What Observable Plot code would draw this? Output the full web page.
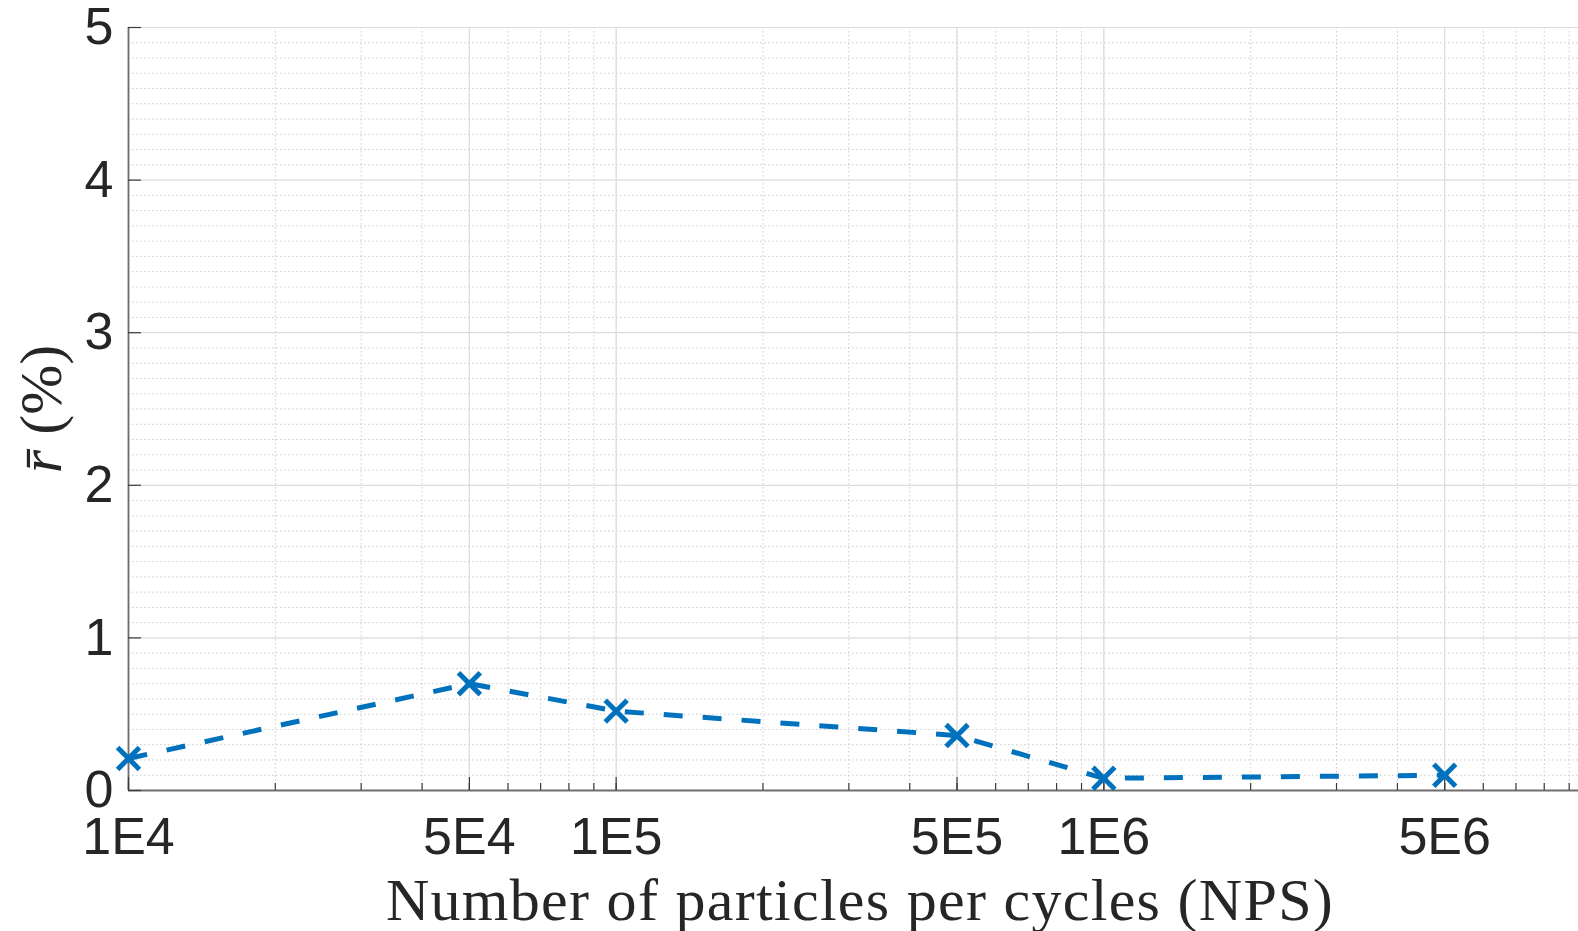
<!DOCTYPE html>
<html>
<head>
<meta charset="utf-8">
<script src="https://cdn.jsdelivr.net/npm/d3@7"></script>
<script src="https://cdn.jsdelivr.net/npm/@observablehq/plot@0.6"></script>
<style>
  html, body { margin: 0; padding: 0; background: #fff; overflow: hidden; }
  #chart { width: 1578px; height: 931px; overflow: hidden; }
  #chart svg { max-width: none !important; }
</style>
</head>
<body>
<div id="chart"></div>
<script>
// Data
const nps = [1e4, 5e4, 1e5, 5e5, 1e6, 5e6];
const rbar = [0.21, 0.70, 0.52, 0.36, 0.08, 0.10];

// Tick definitions
const xTickValues = [1e4, 5e4, 1e5, 5e5, 1e6, 5e6];
const xTickLabels = ["1E4", "5E4", "1E5", "5E5", "1E6", "5E6"];
const yTicks = [0, 1, 2, 3, 4, 5];
const decades = [1e4, 1e5, 1e6];
const mantissas = [1, 2, 3, 4, 5, 6, 7, 8, 9];
const xMinor = decades.flatMap(d => mantissas.map(m => d * m));
const yMinor = d3.range(0, 50).map(i => i / 10).filter(v => v % 1 !== 0);

const xLabel = "Number of particles per cycles (NPS)";
const yLabel = "r\u0304 (%)";

const data = nps.map((x, i) => ({x, y: rbar[i]}));

const blue = "#0072BD";
const ink = "#262626";
const W = 1600, H = 931;
const mL = 128, mR = 9, mT = 27, mB = 141;
const frameW = W - mL - mR, frameH = H - mT - mB;
const serif = "'Liberation Serif', 'DejaVu Serif', serif";

const chart = Plot.plot({
  width: W,
  height: H,
  marginLeft: mL,
  marginRight: mR,
  marginTop: mT,
  marginBottom: mB,
  style: {fontFamily: "'Liberation Sans', Arial, sans-serif", color: ink, background: "#fff", overflow: "visible", maxWidth: "none"},
  x: {type: "log", domain: [1e4, 1e7], axis: null},
  y: {domain: [0, 5], axis: null},
  marks: [
    // minor grid (dotted)
    Plot.gridY(yMinor, {stroke: "#cbcbcb", strokeOpacity: 1, strokeWidth: 1, strokeDasharray: "1.5,2.5"}),
    Plot.gridX(xMinor, {stroke: "#cbcbcb", strokeOpacity: 1, strokeWidth: 1, strokeDasharray: "1.5,2.5"}),
    // major grid (solid)
    Plot.gridY(yTicks, {stroke: "#dcdcdc", strokeOpacity: 1, strokeWidth: 1.2}),
    Plot.gridX(xTickValues, {stroke: "#dcdcdc", strokeOpacity: 1, strokeWidth: 1.2}),
    // spines
    Plot.ruleX([1e4], {stroke: "#6e6e6e", strokeWidth: 1.8}),
    Plot.ruleY([0], {stroke: "#6e6e6e", strokeWidth: 1.8}),
    // inward ticks
    Plot.ruleX(xMinor, {stroke: "#3a3a3a", strokeWidth: 1.2, insetTop: frameH - 7}),
    Plot.ruleX(xTickValues, {stroke: "#3a3a3a", strokeWidth: 1.2, insetTop: frameH - 13}),
    Plot.ruleY(yTicks, {stroke: "#3a3a3a", strokeWidth: 1.2, insetRight: frameW - 13}),
    // data
    Plot.line(data, {x: "x", y: "y", stroke: blue, strokeWidth: 5, strokeDasharray: "19,20", strokeLinecap: "butt", strokeLinejoin: "miter"}),
    Plot.dot(data, {x: "x", y: "y", symbol: "times", r: 10, stroke: blue, strokeWidth: 5}),
    // tick labels
    Plot.axisX(xTickValues, {tickSize: 0, tickPadding: 27, fontSize: 52, tickFormat: d => xTickLabels[xTickValues.indexOf(d)], label: null, fill: ink}),
    Plot.axisY(yTicks, {tickSize: 0, tickPadding: 15, fontSize: 52, tickFormat: d => String(d), label: null, fill: ink}),
    // axis titles
    Plot.text([xLabel], {frameAnchor: "bottom", dy: 110, fontSize: 60, fontFamily: serif, fill: ink, textAnchor: "middle", lineAnchor: "middle"}),
    Plot.text([yLabel], {frameAnchor: "left", dx: -87, rotate: -90, fontSize: 60, fontFamily: serif, fill: ink, textAnchor: "middle", lineAnchor: "middle"})
  ]
});

d3.select(chart).selectAll("text").filter(function() { return this.textContent === xLabel; })
  .attr("letter-spacing", "1.3px");

// Italicise the r-bar in the y title
d3.select(chart).selectAll("text").filter(function() { return this.textContent === yLabel; })
  .each(function() {
    const t = d3.select(this);
    t.text(null);
    t.append("tspan").attr("font-style", "italic").text("r\u0304");
    t.append("tspan").text(" (%)");
  });

document.getElementById("chart").appendChild(chart);
</script>
</body>
</html>
